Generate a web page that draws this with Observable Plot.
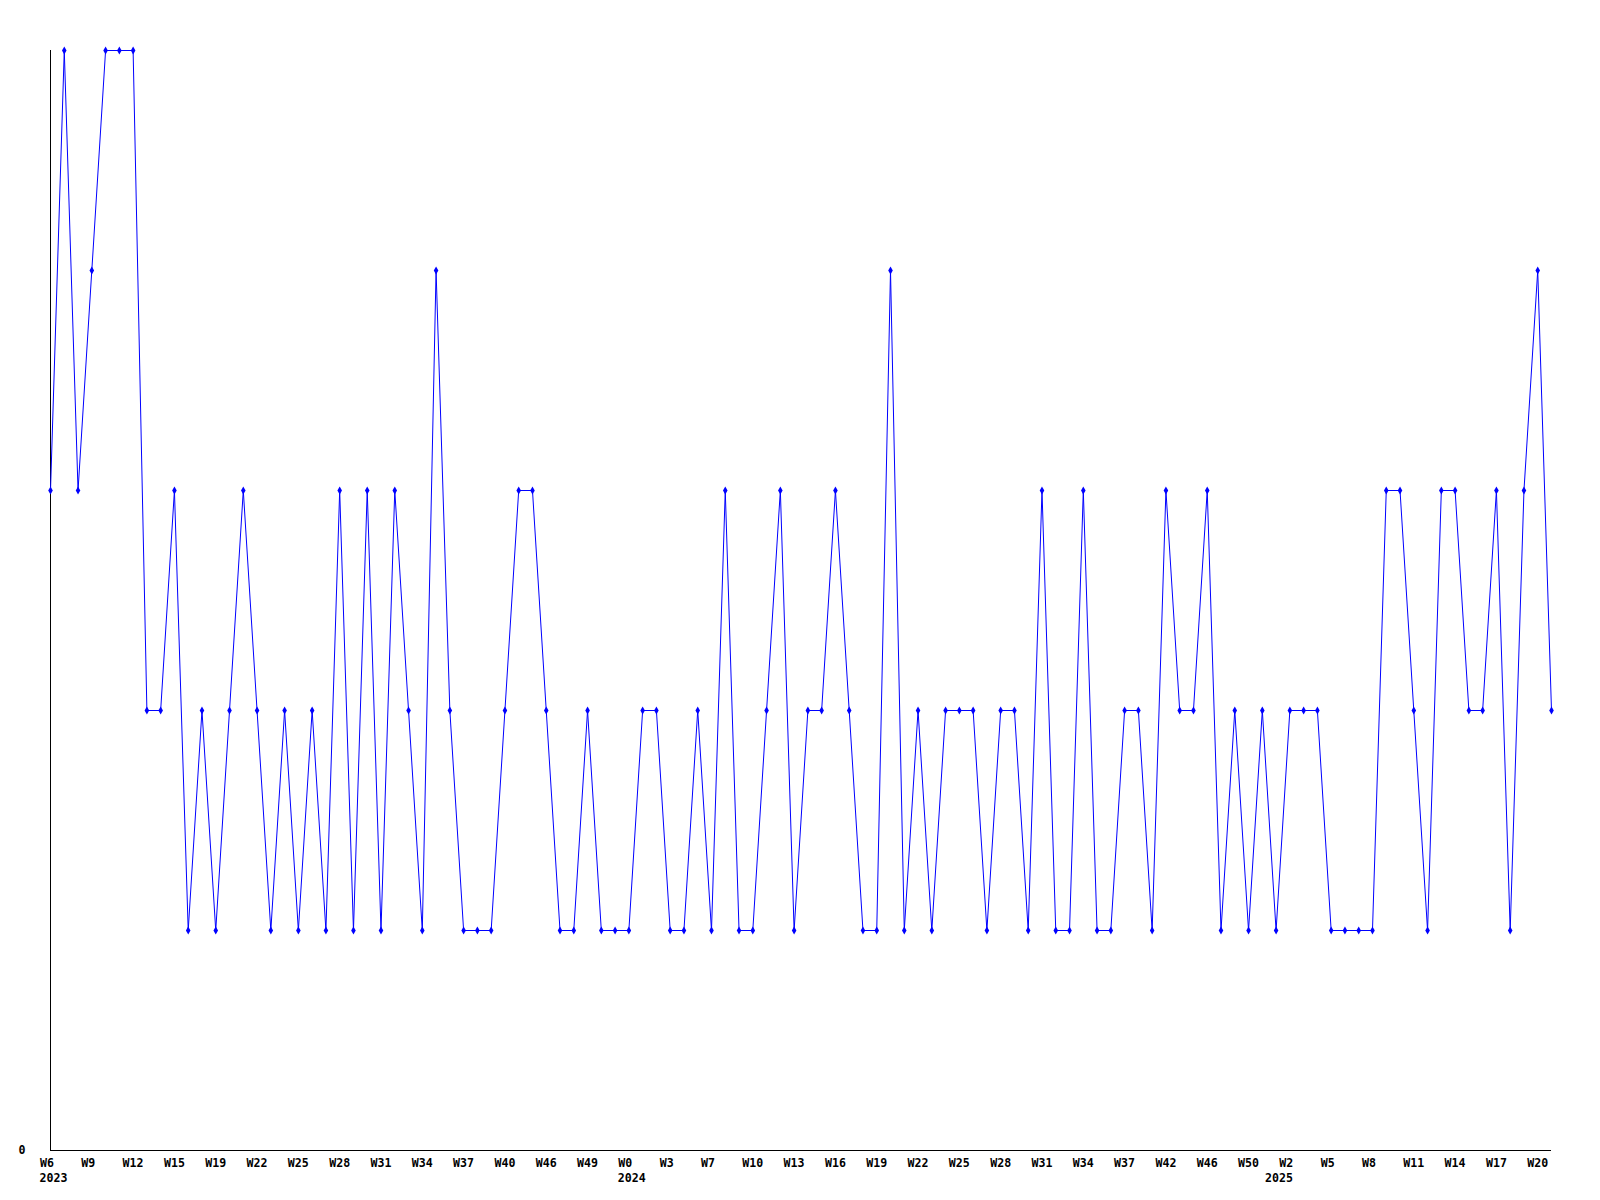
<!DOCTYPE html>
<html>
<head>
<meta charset="utf-8">
<script src="https://cdn.jsdelivr.net/npm/d3@7"></script>
<script src="https://cdn.jsdelivr.net/npm/@observablehq/plot@0.6"></script>
<style>
  html, body { margin: 0; padding: 0; background: #fff; }
  #chart svg { display: block; }
</style>
</head>
<body>
<div id="chart"></div>
<script>
// Weekly values, one per plotted point (categorical, equally spaced)
const values = [
  3, 5, 3, 4, 5, 5, 5, 2, 2, 3,
  1, 2, 1, 2, 3, 2, 1, 2, 1, 2,
  1, 3, 1, 3, 1, 3, 2, 1, 4, 2,
  1, 1, 1, 2, 3, 3, 2, 1, 1, 2,
  1, 1, 1, 2, 2, 1, 1, 2, 1, 3,
  1, 1, 2, 3, 1, 2, 2, 3, 2, 1,
  1, 4, 1, 2, 1, 2, 2, 2, 1, 2,
  2, 1, 3, 1, 1, 3, 1, 1, 2, 2,
  1, 3, 2, 2, 3, 1, 2, 1, 2, 1,
  2, 2, 2, 1, 1, 1, 1, 3, 3, 2,
  1, 3, 3, 2, 2, 3, 1, 3, 4, 2
];

// Tick labels, one every 3rd point
const tickStep = 3;
const weekLabels = [
  "W6", "W9", "W12", "W15", "W19", "W22", "W25", "W28", "W31", "W34", "W37", "W40", "W46", "W49",
  "W0", "W3", "W7", "W10", "W13", "W16", "W19", "W22", "W25", "W28", "W31", "W34", "W37", "W42", "W46", "W50",
  "W2", "W5", "W8", "W11", "W14", "W17", "W20"
];
// Year labels and the point (index into values) where each year starts
const years = ["2023", "2024", "2025"];
const yearStart = [0, 42, 89];

const yTickLabels = [0];

const points = values.map((v, i) => ({i, v}));
const ticks = weekLabels.map((w, k) => ({i: k * tickStep, w}));
const yearData = years.map((y, k) => ({i: yearStart[k], y}));

const font = {fontFamily: "'DejaVu Sans Mono', 'Liberation Mono', monospace", fontSize: 11.6, fontWeight: "bold", fill: "black"};

const chart = Plot.plot({
  width: 1600,
  height: 1200,
  marginLeft: 50,
  marginRight: 49,
  marginTop: 50,
  marginBottom: 50,
  style: {background: "white"},
  x: {type: "linear", domain: [0, values.length - 1], axis: null},
  y: {type: "linear", domain: [0, 5], axis: null},
  marks: [
    Plot.ruleX([0], {y1: 0, y2: 5, stroke: "black", strokeWidth: 1}),
    Plot.ruleY([0], {x1: 0, x2: values.length - 1, stroke: "black", strokeWidth: 1}),
    Plot.line(points, {x: "i", y: "v", stroke: "#0000ff", strokeWidth: 1}),
    Plot.dot(points, {x: "i", y: "v", symbol: "diamond", r: 2.4, fill: "#0000ff", stroke: "none"}),
    Plot.text(ticks, {x: "i", y: () => 0, text: "w", textAnchor: "start", lineAnchor: "top", dx: -10.5, dy: 8, ...font}),
    Plot.text(yearData, {x: "i", y: () => 0, text: "y", textAnchor: "start", lineAnchor: "top", dx: -11, dy: 23, ...font}),
    Plot.text(yTickLabels, {x: () => 0, y: d => d, text: d => String(d), textAnchor: "end", lineAnchor: "middle", dx: -25, ...font})
  ]
});
document.getElementById("chart").appendChild(chart);
</script>
</body>
</html>
